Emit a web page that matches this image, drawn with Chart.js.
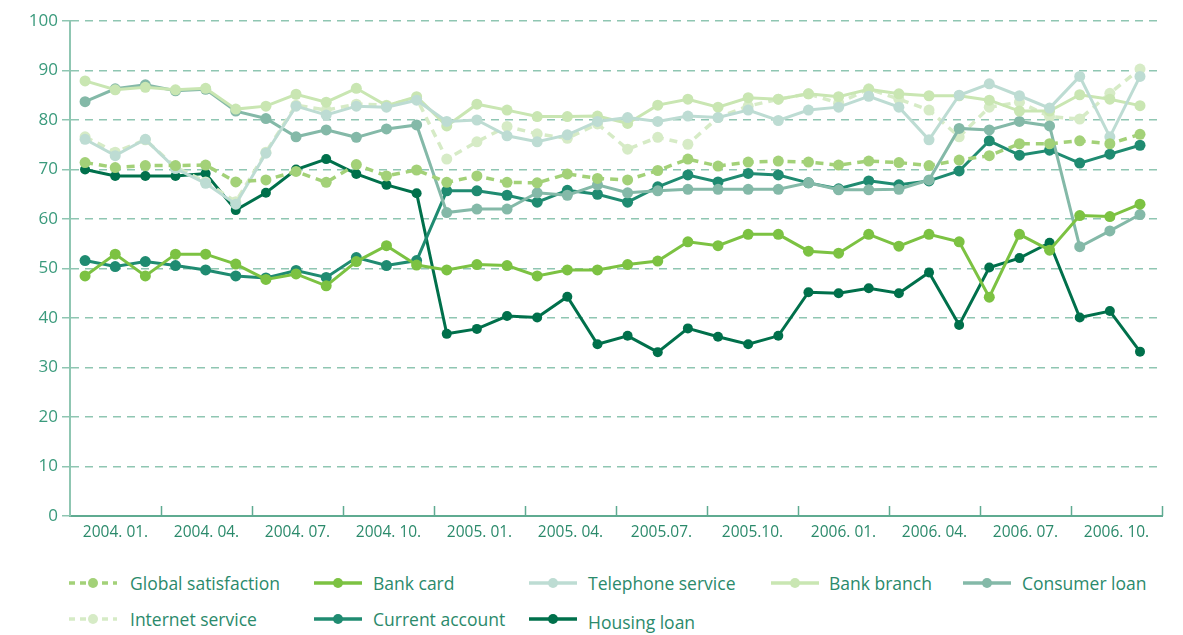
<!DOCTYPE html>
<html>
<head>
<meta charset="utf-8">
<script src="https://cdn.jsdelivr.net/npm/chart.js@4/dist/chart.umd.min.js"></script>
<style>
  html,body{margin:0;padding:0;background:#fff;}
  #wrap{position:relative;width:1183px;height:635px;overflow:hidden;}
  #cv{position:absolute;left:0;top:0;}
  .lg{position:absolute;font-family:"Open Sans",sans-serif;font-size:17.5px;color:#2b8a6b;white-space:nowrap;line-height:20px;}
  .sym{position:absolute;}
</style>
</head>
<body>
<div id="wrap">
  <canvas id="cv" width="1183" height="548"></canvas>
  <div id="legend"></div>
</div>
<script>
// ---- data ----
const months = [
  "2004.01","2004.02","2004.03","2004.04","2004.05","2004.06","2004.07","2004.08","2004.09","2004.10","2004.11","2004.12",
  "2005.01","2005.02","2005.03","2005.04","2005.05","2005.06","2005.07","2005.08","2005.09","2005.10","2005.11","2005.12",
  "2006.01","2006.02","2006.03","2006.04","2006.05","2006.06","2006.07","2006.08","2006.09","2006.10","2006.11","2006.12"
];
const tickLabels = ["2004. 01.","2004. 04.","2004. 07.","2004. 10.","2005. 01.","2005. 04.","2005.07.","2005.10.","2006. 01.","2006. 04.","2006. 07.","2006. 10."];
const yTicks = [0,10,20,30,40,50,60,70,80,90,100];

const globalSatisfaction = [71.4,70.4,70.8,70.8,70.9,67.5,67.9,69.6,67.4,71.0,68.7,69.9,67.4,68.7,67.4,67.3,69.1,68.2,67.9,69.8,72.1,70.7,71.5,71.7,71.5,70.9,71.7,71.4,70.8,71.9,72.8,75.2,75.2,75.8,75.2,77.1];
const bankCard = [48.5,52.9,48.5,52.9,52.9,50.9,47.8,48.9,46.5,51.4,54.6,50.7,49.7,50.8,50.6,48.5,49.7,49.7,50.8,51.5,55.4,54.6,56.9,56.9,53.5,53.1,56.9,54.5,56.9,55.4,44.2,56.9,53.7,60.7,60.5,63.0];
const telephoneService = [76.1,72.8,76.1,70.2,67.2,63.0,73.3,82.8,81.0,82.8,82.6,84.0,79.7,80.0,76.8,75.6,77.0,79.7,80.5,79.7,80.8,80.5,82.0,79.9,82.0,82.6,84.8,82.6,76.0,85.0,87.3,84.9,82.4,88.8,76.6,88.8];
const bankBranch = [87.9,86.1,86.6,86.1,86.4,82.2,82.8,85.2,83.6,86.4,82.9,84.7,78.8,83.2,82.0,80.7,80.7,80.8,79.3,83.0,84.2,82.6,84.5,84.2,85.3,84.7,86.2,85.3,84.9,84.9,84.0,81.8,81.8,85.1,84.2,82.9];
const consumerLoan = [83.7,86.3,87.1,85.9,86.2,81.8,80.3,76.6,78.0,76.5,78.2,79.0,61.3,62.0,62.0,65.3,64.8,66.9,65.3,65.7,66.0,66.0,66.0,66.0,67.3,65.9,65.9,66.0,67.9,78.3,78.0,79.7,78.8,54.4,57.6,60.9];
const internetService = [76.6,73.5,76.0,70.5,67.5,63.5,73.5,83.0,82.0,83.2,83.0,84.4,72.1,75.6,78.7,77.2,76.3,79.2,74.1,76.5,75.1,80.5,82.8,84.2,85.3,83.4,86.3,84.2,82.0,76.6,82.6,83.6,80.7,80.2,85.4,90.3];
const currentAccount = [51.6,50.4,51.4,50.6,49.7,48.5,48.1,49.6,48.2,52.2,50.6,51.6,65.7,65.7,64.8,63.4,65.8,65.0,63.4,66.5,68.9,67.5,69.2,68.9,67.3,66.1,67.7,66.9,67.7,69.7,75.8,72.9,73.9,71.3,73.1,74.9];
const housingLoan = [70.0,68.7,68.7,68.7,69.2,61.8,65.3,70.0,72.1,69.1,66.9,65.2,36.8,37.8,40.4,40.1,44.3,34.7,36.4,33.1,37.9,36.2,34.7,36.4,45.2,45.0,46.0,45.0,49.2,38.6,50.2,52.1,55.2,40.1,41.4,33.2];

const seriesNames = ["Global satisfaction","Bank card","Telephone service","Bank branch","Consumer loan","Internet service","Current account","Housing loan"];
const seriesValues = [globalSatisfaction,bankCard,telephoneService,bankBranch,consumerLoan,internetService,currentAccount,housingLoan];
const seriesColors = ["#a3d178","#7cc242","#bddcd3","#c9e6b2","#84b9a8","#d6ebc6","#1f8b71","#00704b"];
const seriesDashed = [true,false,false,false,false,true,false,false];

// ---- chart ----
const X_MIN = -0.5, X_MAX = 35.73;
const datasets = seriesNames.map((name,i)=>({
  label: name,
  data: seriesValues[i].map((v,j)=>({x:j,y:v})),
  borderColor: seriesColors[i],
  backgroundColor: seriesColors[i],
  borderWidth: seriesDashed[i] ? 3.5 : 3,
  borderDash: seriesDashed[i] ? [8,6] : [],
  pointRadius: i===7 ? 5 : 5.5,
  pointBorderWidth: 0,
  pointHoverRadius: 5.5,
  tension: 0,
  fill: false
}));

const xTickMarks = {
  id:'xTickMarks',
  afterDraw(chart){
    const a = chart.chartArea, ctx = chart.ctx;
    ctx.save();
    ctx.strokeStyle = '#5fab91';
    ctx.lineWidth = 1.5;
    const n = tickLabels.length;
    for(let k=1;k<=n;k++){
      const x = Math.round(a.left + k*(a.right-a.left)/n)+0.5;
      ctx.beginPath(); ctx.moveTo(x,a.bottom); ctx.lineTo(x,a.bottom-10); ctx.stroke();
    }
    ctx.restore();
  }
};

new Chart(document.getElementById('cv'),{
  type:'line',
  data:{datasets},
  plugins:[xTickMarks],
  options:{
    responsive:false,
    animation:false,
    events:[],
    layout:{padding:{top:21,right:21,left:0,bottom:0}},
    plugins:{legend:{display:false},tooltip:{enabled:false}},
    scales:{
      x:{
        type:'linear', min:X_MIN, max:X_MAX,
        afterBuildTicks(s){ const step=(X_MAX-X_MIN)/tickLabels.length; s.ticks = tickLabels.map((_,k)=>({value:X_MIN+(k+0.5)*step})); },
        afterFit(s){ s.height = 32; },
        grid:{display:false, drawTicks:false},
        border:{display:true,color:'#5fab91',width:2},
        ticks:{autoSkip:false,maxRotation:0,minRotation:0,padding:7,color:'#2b8a6b',
          font:{family:'"Open Sans", sans-serif',size:15.5},
          callback:(v,i)=>tickLabels[i]}
      },
      y:{
        min:0,max:100,
        afterBuildTicks(s){ s.ticks = yTicks.map(v=>({value:v})); },
        afterFit(s){ s.width = 70; },
        grid:{color:'#8fc6b2',lineWidth:1.5,tickLength:8,drawTicks:true},
        border:{display:true,color:'#8fc6b2',width:2,dash:[8,6]},
        ticks:{padding:4,color:'#3a9a7c',font:{family:'"Open Sans", sans-serif',size:17}}
      }
    }
  }
});

// ---- legend (HTML) ----
const legendPos = [
  {sx:68, tx:130, y:584},{sx:313, tx:373, y:584},{sx:528, tx:588, y:584},{sx:770, tx:829, y:584},{sx:962, tx:1022, y:584},
  {sx:68, tx:130, y:620},{sx:313, tx:373, y:620},{sx:528, tx:588, y:623}
];
const lg = document.getElementById('legend');
seriesNames.forEach((name,i)=>{
  const p = legendPos[i];
  const c = seriesColors[i];
  const dash = seriesDashed[i] ? 'stroke-dasharray="6,5"' : '';
  const sym = document.createElement('div');
  sym.className='sym';
  sym.style.left = p.sx+'px'; sym.style.top = (p.y-9 - (i===7?3:0))+'px';
  sym.innerHTML = `<svg width="50" height="16"><line x1="1" y1="8" x2="49" y2="8" stroke="${c}" stroke-width="3.5" ${dash}/><circle cx="25" cy="8" r="5" fill="${c}"/></svg>`;
  lg.appendChild(sym);
  const t = document.createElement('div');
  t.className='lg'; t.textContent = name;
  t.style.left = p.tx+'px'; t.style.top = (p.y-11)+'px';
  lg.appendChild(t);
});
</script>
</body>
</html>
